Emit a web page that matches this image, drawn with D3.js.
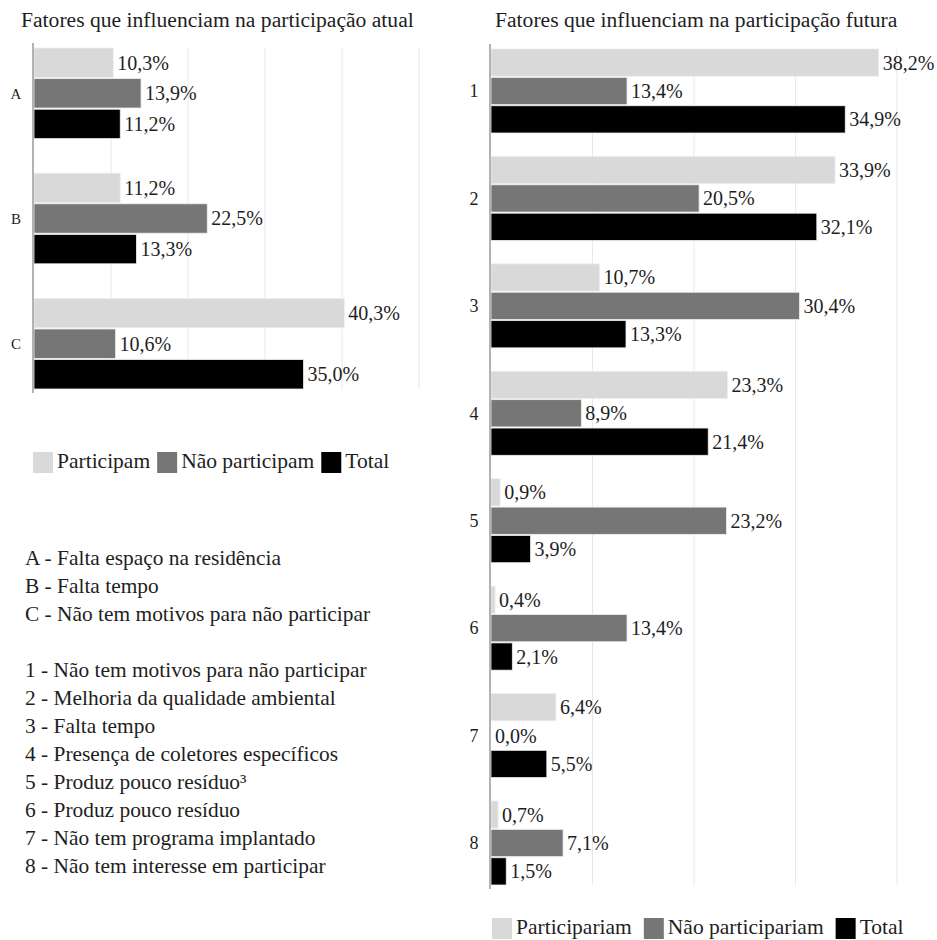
<!DOCTYPE html>
<html>
<head>
<meta charset="utf-8">
<script src="https://cdn.jsdelivr.net/npm/d3@7"></script>
<style>
  body { margin: 0; background: #fff; }
</style>
</head>
<body>
<div id="chart"></div>
<script>
// dados - participação atual
var catsAtual = ["A", "B", "C"];
var participam = [10.3, 11.2, 40.3];
var naoParticipam = [13.9, 22.5, 10.6];
var totalAtual = [11.2, 13.3, 35.0];
var seriesAtual = ["Participam", "Não participam", "Total"];

// dados - participação futura
var catsFutura = ["1", "2", "3", "4", "5", "6", "7", "8"];
var participariam = [38.2, 33.9, 10.7, 23.3, 0.9, 0.4, 6.4, 0.7];
var naoParticipariam = [13.4, 20.5, 30.4, 8.9, 23.2, 13.4, 0.0, 7.1];
var totalFutura = [34.9, 32.1, 13.3, 21.4, 3.9, 2.1, 5.5, 1.5];
var seriesFutura = ["Participariam", "Não participariam", "Total"];

var gridAtual = [10, 20, 30, 40, 50];
var gridFutura = [10, 20, 30, 40];

var notas = [
  "A - Falta espaço na residência",
  "B - Falta tempo",
  "C - Não tem motivos para não participar",
  "",
  "1 - Não tem motivos para não participar",
  "2 - Melhoria da qualidade ambiental",
  "3 - Falta tempo",
  "4 - Presença de coletores específicos",
  "5 - Produz pouco resíduo³",
  "6 - Produz pouco resíduo",
  "7 - Não tem programa implantado",
  "8 - Não tem interesse em participar"
];

var colors = ["#d9d9d9", "#767676", "#000000"];
var serif = "'Liberation Serif'";

var svg = d3.select("#chart").append("svg")
  .attr("width", 937)
  .attr("height", 940);

function fmt(v) { return v.toFixed(1).replace(".", ",") + "%"; }

function txt(sel, size) {
  return sel.style("font-family", serif).style("font-size", size).attr("fill", "#1e1e1e");
}

function drawPanel(opt) {
  var g = svg.append("g");
  var x = d3.scaleLinear().domain(opt.domain).range(opt.xRange);
  var y = d3.scaleBand().domain(opt.cats).range(opt.yRange)
    .paddingInner(opt.padInner).paddingOuter(0);
  var ySub = d3.scaleBand().domain([0, 1, 2]).range([0, y.bandwidth()]).paddingInner(0.04);

  txt(g.append("text"), "21.6px")
    .attr("x", opt.titleX).attr("y", 27)
    .text(opt.title);

  // linhas de grade
  g.selectAll(".grid").data(opt.grid).enter().append("line")
    .attr("x1", function(d) { return x(d); })
    .attr("x2", function(d) { return x(d); })
    .attr("y1", opt.yRange[0]).attr("y2", opt.yRange[1])
    .attr("stroke", "#e8e8e8").attr("stroke-width", 1);

  var rows = opt.cats.map(function(c, i) {
    return { cat: c, vals: opt.series.map(function(s) { return s[i]; }) };
  });

  var grp = g.selectAll(".grp").data(rows).enter().append("g")
    .attr("transform", function(d) { return "translate(0," + y(d.cat) + ")"; });

  grp.selectAll("rect").data(function(d) { return d.vals; }).enter().append("rect")
    .attr("x", x(0))
    .attr("y", function(d, i) { return ySub(i); })
    .attr("width", function(d) { return x(d) - x(0); })
    .attr("height", ySub.bandwidth())
    .attr("fill", function(d, i) { return colors[i]; })
    .attr("stroke", function(d) { return d > 0 ? "#eeeeee" : "none"; })
    .attr("stroke-width", 0.8);

  txt(grp.selectAll(".val").data(function(d) { return d.vals; }).enter().append("text"), "20px")
    .attr("x", function(d) { return x(d) + 4; })
    .attr("y", function(d, i) { return ySub(i) + ySub.bandwidth() / 2; })
    .attr("dy", "0.35em")
    .text(fmt);

  txt(grp.append("text"), opt.catSize)
    .attr("x", opt.catX)
    .attr("y", y.bandwidth() / 2)
    .attr("dy", "0.35em")
    .attr("text-anchor", "middle")
    .text(function(d) { return d.cat; });

  // eixo vertical
  g.append("line")
    .attr("x1", x(0) - 1).attr("x2", x(0) - 1)
    .attr("y1", opt.yRange[0] - 5).attr("y2", opt.yRange[1] + 4)
    .attr("stroke", "#9a9a9a").attr("stroke-width", 1.5);

  // legenda
  var lg = g.append("g").attr("transform", "translate(" + opt.legendX + "," + opt.legendY + ")");
  var lx = 0;
  opt.names.forEach(function(n, i) {
    lg.append("rect").attr("x", lx).attr("y", 0).attr("width", 20).attr("height", 21)
      .attr("fill", colors[i]);
    var t = txt(lg.append("text"), "21.5px").attr("x", lx + 24).attr("y", 16).text(n);
    lx += 24 + t.node().getComputedTextLength() + opt.legendGap;
  });
}

drawPanel({
  title: "Fatores que influenciam na participação atual",
  titleX: 21,
  cats: catsAtual,
  series: [participam, naoParticipam, totalAtual],
  names: seriesAtual,
  domain: [0, 50], xRange: [34, 419],
  yRange: [48, 389], padInner: 0.276,
  grid: gridAtual,
  catX: 16, catSize: "15px",
  legendX: 33, legendY: 452, legendGap: 7
});

drawPanel({
  title: "Fatores que influenciam na participação futura",
  titleX: 495,
  cats: catsFutura,
  series: [participariam, naoParticipariam, totalFutura],
  names: seriesFutura,
  domain: [0, 40], xRange: [491, 897],
  yRange: [49, 885], padInner: 0.218,
  grid: gridFutura,
  catX: 474, catSize: "18px",
  legendX: 492, legendY: 918, legendGap: 12
});

// notas explicativas
txt(svg.append("g").selectAll("text").data(notas).enter().append("text"), "21.4px")
  .attr("x", 25)
  .attr("y", function(d, i) { return 565 + i * 28; })
  .text(function(d) { return d; });
</script>
</body>
</html>
